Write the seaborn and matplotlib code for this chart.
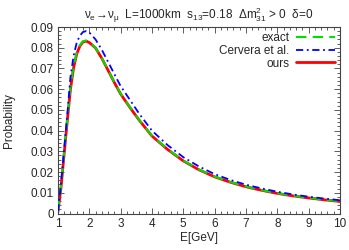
import numpy as np
import pandas as pd
import matplotlib
matplotlib.use("Agg")
import matplotlib.pyplot as plt
import seaborn as sns

# energias (GeV) y probabilidades
energia = [1.0, 1.1, 1.2, 1.3, 1.4, 1.5, 1.6, 1.7, 1.8, 1.9, 2.0, 2.2, 2.4, 2.6, 2.8, 3.0,
           3.3, 3.6, 4.0, 4.5, 5.0, 5.5, 6.0, 6.5, 7.0, 7.5, 8.0, 8.5, 9.0, 9.5, 10.0]
exact = [0.0010, 0.0135, 0.0300, 0.0460, 0.0610, 0.0710, 0.0775, 0.0812, 0.0831, 0.0835, 0.0827,
         0.0800, 0.0750, 0.0692, 0.0633, 0.0578, 0.0512, 0.0450, 0.0375, 0.0310, 0.0255,
         0.0212, 0.0178, 0.0152, 0.0130, 0.0113, 0.0098, 0.0086, 0.0076, 0.0067, 0.0059]
cervera = [0.0010, 0.0145, 0.0310, 0.0478, 0.0660, 0.0760, 0.0825, 0.0858, 0.0876, 0.0880, 0.0874,
           0.0840, 0.0790, 0.0732, 0.0673, 0.0615, 0.0548, 0.0480, 0.0400, 0.0330, 0.0272,
           0.0227, 0.0190, 0.0162, 0.0139, 0.0121, 0.0105, 0.0092, 0.0081, 0.0072, 0.0064]
ours = [0.0008, 0.0128, 0.0290, 0.0450, 0.0600, 0.0703, 0.0770, 0.0808, 0.0828, 0.0832, 0.0825,
        0.0799, 0.0749, 0.0691, 0.0632, 0.0577, 0.0511, 0.0449, 0.0374, 0.0309, 0.0254,
        0.0211, 0.0177, 0.0151, 0.0129, 0.0112, 0.0097, 0.0085, 0.0075, 0.0066, 0.0058]

df = pd.DataFrame({"E": energia, "exact": exact, "cervera": cervera, "ours": ours})

sns.set_style("ticks")
plt.rcParams["font.family"] = ["Liberation Sans", "DejaVu Sans"]
plt.rcParams["mathtext.fontset"] = "custom"
plt.rcParams["mathtext.rm"] = "Liberation Sans"
plt.rcParams["mathtext.it"] = "Liberation Sans"
plt.rcParams["mathtext.bf"] = "Liberation Sans:bold"

fs = 8.5
fig = plt.figure(figsize=(3.49, 2.5), dpi=100)
ax = fig.add_axes([0.166, 0.146, 0.808, 0.746])

sns.lineplot(data=df, x="E", y="ours", ax=ax, color="#ff0000", lw=2.0, label="ours", zorder=2)
sns.lineplot(data=df, x="E", y="exact", ax=ax, color="#00e000", lw=1.5, label="exact", zorder=3)
ax.lines[-1].set_dashes([5, 3])
sns.lineplot(data=df, x="E", y="cervera", ax=ax, color="#0000ff", lw=1.3, label="Cervera et al.",
             zorder=4)
ax.lines[-1].set_dashes([4, 2, 1, 2])

ax.set_xlim(1, 10)
ax.set_ylim(0, 0.09)
ax.set_xticks(np.arange(1, 11, 1))
ax.set_xticks(np.arange(1, 10.01, 0.2), minor=True)
ax.set_yticks(np.arange(0, 0.0901, 0.01))
ax.set_yticks(np.arange(0, 0.0901, 0.002), minor=True)
ax.set_yticklabels(["0"] + ["%.2f" % v for v in np.arange(0.01, 0.0901, 0.01)])
ax.tick_params(which="both", direction="in", top=True, right=True, labelsize=fs,
               color="#444444", width=0.6, pad=3)
ax.tick_params(which="major", length=4)
ax.tick_params(which="minor", length=2)
for s in ax.spines.values():
    s.set_color("#444444")
    s.set_linewidth(0.8)

ax.set_xlabel("E[GeV]", fontsize=fs, labelpad=2)
ax.set_ylabel("Probability", fontsize=fs, labelpad=11)
ax.set_title(r"$\nu_e\!\rightarrow\!\nu_\mu$  L=1000km  s$_{13}$=0.18  $\Delta$m$^2_{31}$ > 0  $\delta$=0",
             fontsize=fs, pad=6)

h, l = ax.get_legend_handles_labels()
orden = [l.index("exact"), l.index("Cervera et al."), l.index("ours")]
ax.legend([h[i] for i in orden], [l[i] for i in orden], loc="upper right", frameon=False,
          markerfirst=False, fontsize=fs, handlelength=3.3, labelspacing=0.08,
          borderaxespad=0.1, borderpad=0.3, handletextpad=0.6)

plt.savefig("out.png", dpi=100)
